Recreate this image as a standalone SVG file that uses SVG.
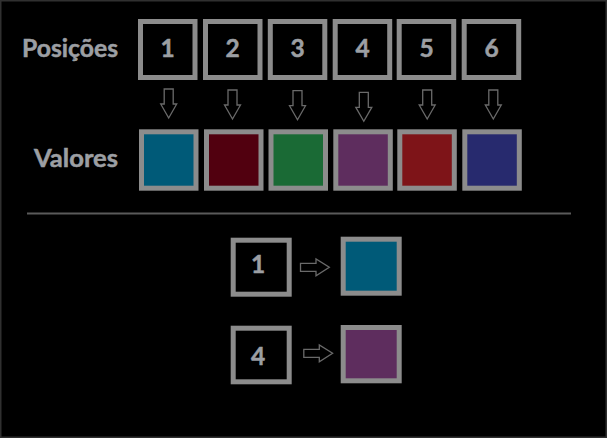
<svg xmlns="http://www.w3.org/2000/svg" width="607" height="438" viewBox="0 0 607 438">
  <style>
    .box{fill:#000;stroke:#8c8c8c;stroke-width:5}
    .val{stroke:#8c8c8c;stroke-width:5}
    .lbl{font-family:Lato,"Liberation Sans",sans-serif;font-weight:bold;font-size:25px;fill:#9c9fa3;stroke:#9c9fa3;stroke-width:0.5}
    .num{font-family:Lato,"Liberation Sans",sans-serif;font-weight:bold;font-size:24.5px;fill:#9c9fa3;stroke:#9c9fa3;stroke-width:0.5;text-anchor:middle}
    .arr{fill:none;stroke:#6a6a6a;stroke-width:1.3;stroke-linejoin:miter}
  </style>
  <rect x="0" y="0" width="607" height="438" fill="#000"/>
  <rect x="0.75" y="0.75" width="605.5" height="436.5" fill="none" stroke="#303030" stroke-width="1.5"/>

  <g id="labels">
    <text class="lbl" x="22" y="57" textLength="96" lengthAdjust="spacingAndGlyphs">Posições</text>
    <text class="lbl" x="34" y="166.5" textLength="84" lengthAdjust="spacingAndGlyphs">Valores</text>
  </g>

  <g id="pos1"><rect class="box" x="140.5" y="21.5" width="54.5" height="56"/><text class="num" x="167.5" y="57">1</text></g>
  <g id="pos2"><rect class="box" x="205.5" y="21.5" width="54.5" height="56"/><text class="num" x="232.5" y="57">2</text></g>
  <g id="pos3"><rect class="box" x="270.3" y="21.5" width="54.5" height="56"/><text class="num" x="297.5" y="57">3</text></g>
  <g id="pos4"><rect class="box" x="335.2" y="21.5" width="54.5" height="56"/><text class="num" x="362.5" y="57">4</text></g>
  <g id="pos5"><rect class="box" x="399.2" y="21.5" width="54.5" height="56"/><text class="num" x="426.5" y="57">5</text></g>
  <g id="pos6"><rect class="box" x="464.2" y="21.5" width="54.5" height="56"/><text class="num" x="491.5" y="57">6</text></g>

  <g id="val1"><rect class="val" fill="#005a78" x="141.5" y="131.8" width="54.5" height="56.4"/></g>
  <g id="val2"><rect class="val" fill="#51000f" x="206.5" y="131.8" width="54.5" height="56.4"/></g>
  <g id="val3"><rect class="val" fill="#1a6a35" x="271" y="131.8" width="54.5" height="56.4"/></g>
  <g id="val4"><rect class="val" fill="#5e2d5e" x="335.8" y="131.8" width="54.5" height="56.4"/></g>
  <g id="val5"><rect class="val" fill="#7e1418" x="399.8" y="131.8" width="54.5" height="56.4"/></g>
  <g id="val6"><rect class="val" fill="#272a6e" x="464.8" y="131.8" width="54.5" height="56.4"/></g>

  <line x1="27" y1="213.5" x2="571" y2="213.5" stroke="#5a5a5a" stroke-width="2"/>

  <g id="q1"><rect class="box" x="233.2" y="240.2" width="56" height="54"/><text class="num" x="258" y="273">1</text></g>
  <g id="r1"><rect class="val" fill="#005a78" x="343.2" y="239.2" width="56" height="54"/></g>
  <g id="q4"><rect class="box" x="233.2" y="328.2" width="56" height="53.6"/><text class="num" x="258" y="365">4</text></g>
  <g id="r4"><rect class="val" fill="#5e2d5e" x="343.2" y="327.5" width="56" height="53.3"/></g>

  <g id="connectors">
    <polygon class="arr" points="164.2,89 173.2,89 173.2,104 176.7,104 168.7,118 160.7,104 164.2,104"/>
    <polygon class="arr" points="228,90 237,90 237,105 240.5,105 232.5,119 224.5,105 228,105"/>
    <polygon class="arr" points="293,90.7 302,90.7 302,105.7 305.5,105.7 297.5,119.7 289.5,105.7 293,105.7"/>
    <polygon class="arr" points="359.3,92.3 368.3,92.3 368.3,107.3 371.8,107.3 363.8,121.3 355.8,107.3 359.3,107.3"/>
    <polygon class="arr" points="422.7,90 431.7,90 431.7,105 435.2,105 427.2,119 419.2,105 422.7,105"/>
    <polygon class="arr" points="488.8,90 497.8,90 497.8,105 501.3,105 493.3,119 485.3,105 488.8,105"/>
    <polygon class="arr" points="300.5,263.3 316,263.3 316,259 329.3,267.3 316,275.8 316,271.3 300.5,271.3"/>
    <polygon class="arr" points="303.8,349.3 319.3,349.3 319.3,345 332.6,353.3 319.3,361.8 319.3,357.3 303.8,357.3"/>
  </g>
</svg>
